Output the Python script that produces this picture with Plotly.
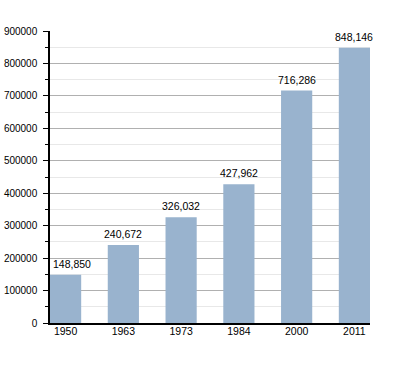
import plotly.graph_objects as go

years = ["1950", "1963", "1973", "1984", "2000", "2011"]
population = [148850, 240672, 326032, 427962, 716286, 848146]
ytick_vals = [0, 100000, 200000, 300000, 400000, 500000, 600000, 700000, 800000, 900000]

positions = list(range(len(years)))
bar_w = 0.54
FONT = "Liberation Sans, Arial, sans-serif"

fig = go.Figure(go.Bar(
    x=positions,
    y=population,
    width=bar_w,
    marker=dict(color="#99b3ce", line=dict(width=0)),
    hoverinfo="x+y",
))

# value labels above each bar (first one nudged right, clear of the axis)
for i, (p, v) in enumerate(zip(positions, population)):
    fig.add_annotation(
        x=p, y=v, text=f"{v:,}", showarrow=False,
        xanchor="center", yanchor="bottom", yshift=3,
        xshift=6 if i == 0 else 0,
        font=dict(family=FONT, size=10.5, color="#000"),
    )

fig.update_layout(
    width=400, height=373,
    margin=dict(l=50, r=30, t=31, b=50, autoexpand=False),
    paper_bgcolor="white", plot_bgcolor="white",
    font=dict(family=FONT, size=10.5, color="#000"),
    showlegend=False,
    xaxis=dict(
        range=[-bar_w / 2, len(years) - 1 + bar_w / 2],
        tickmode="array", tickvals=positions, ticktext=years,
        showgrid=False, zeroline=False,
        showline=True, linecolor="#000", linewidth=1.5,
        ticks="", tickfont=dict(size=10.5), automargin=False,
        ticklabelstandoff=-2,
    ),
    yaxis=dict(
        range=[0, 900000],
        tickmode="array", tickvals=ytick_vals,
        tickformat="d",
        showgrid=True, gridcolor="#b0b0b0", gridwidth=1,
        zeroline=False,
        showline=True, linecolor="#000", linewidth=1.5,
        ticks="outside", ticklen=5, tickcolor="#000",
        ticklabelstandoff=4,
        minor=dict(dtick=50000, showgrid=True, gridcolor="#e8e8e8",
                   ticks="outside", ticklen=3, tickcolor="#000"),
        tickfont=dict(size=10), automargin=False,
    ),
)

fig.write_html(
    "out.html",
    config={"displayModeBar": False},
    post_script="document.body.style.margin='0';document.body.style.padding='0';",
)
